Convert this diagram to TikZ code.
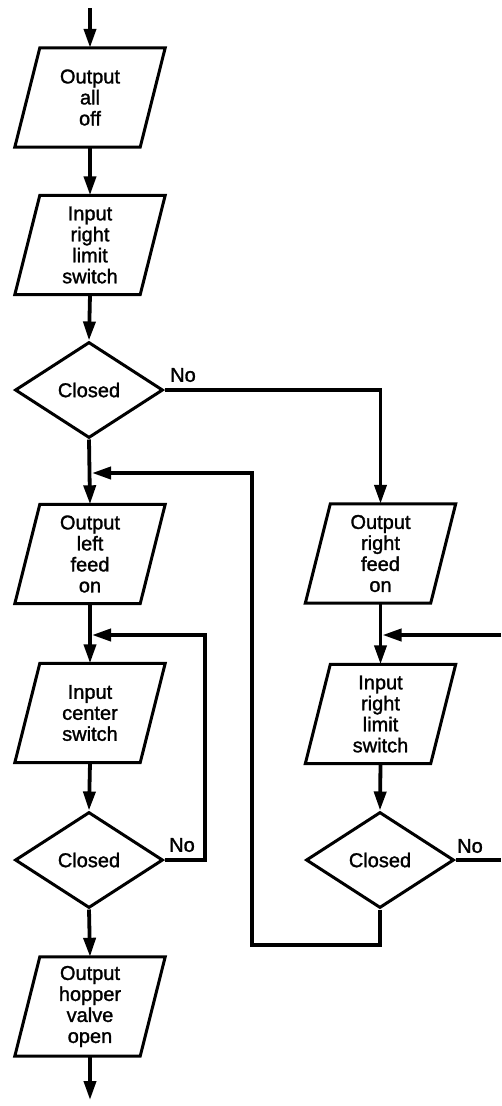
\documentclass[tikz,border=0pt]{standalone}
\usepackage{fontspec}
\setmainfont[FakeBold=1.4]{Liberation Sans}
\usetikzlibrary{shapes.geometric,arrows.meta}
\begin{document}
\begin{tikzpicture}[x=1pt,y=-1pt,
  txt/.style={font=\fontsize{20}{21}\selectfont, align=center, inner sep=0pt},
  iobox/.style={txt, minimum width=150pt, minimum height=99pt},
  decide/.style={txt, diamond, draw, line width=3pt, minimum width=148pt, minimum height=96pt, line join=miter},
  outline/.style={line width=3pt, line join=miter},
  flow/.style={line width=3.8pt, -{Triangle[length=19pt,width=12pt]}},
  wire/.style={line width=3.8pt},
  lbl/.style={font=\fontsize{20}{21}\selectfont, inner sep=0pt}
]
\useasboundingbox (0,0) rectangle (501,1106);
\fill[white] (0,0) rectangle (501,1106);

% left column
\node[iobox] (b1) at (90,97.5) {Output\\all\\off};
\node[iobox] (b2) at (90,245) {Input\\right\\limit\\switch};
\node[decide] (d1) at (89,390) {Closed};
\node[iobox] (b3) at (90,554) {Output\\left\\feed\\on};
\node[iobox] (b4) at (90,713) {Input\\center\\switch};
\node[decide] (d2) at (89,860) {Closed};
\node[iobox] (b5) at (90,1006.5) {Output\\hopper\\valve\\open};
% right column
\node[iobox] (r1) at (380.5,553.5) {Output\\right\\feed\\on};
\node[iobox] (r2) at (380.5,714) {Input\\right\\limit\\switch};
\node[decide] (d3) at (380,860) {Closed};

% labels
\node[lbl] (n1) at (183,375) {No};
\node[lbl] (n2) at (182,845) {No};
\node[lbl] (n3) at (470,846) {No};

% parallelogram outlines
\foreach \n in {b1,b2,b3,b4,b5,r1,r2}{
  \draw[outline] ([xshift=25pt]\n.north west) -- (\n.north east)
    -- ([xshift=-25pt]\n.south east) -- (\n.south west) -- cycle;
}

% coordinates
\coordinate (start) at (90,8);
\coordinate (finish) at (90,1100);
\coordinate (m1) at (90,473);
\coordinate (m2) at (90,635);
\coordinate (m3) at (380.5,635);
\coordinate (e1) at (501,635);
\coordinate (e2) at (501,860);

% connectors
\draw[flow] (start) -- (b1.north);
\draw[flow] (b1.south) -- (b2.north);
\draw[flow] (b2.south) -- (d1.north);
\draw[flow] (d1.south) -- (b3.north);
\draw[flow] (b3.south) -- (b4.north);
\draw[flow] (b4.south) -- (d2.north);
\draw[flow] (d2.south) -- (b5.north);
\draw[flow] (b5.south) -- (finish);

\draw[flow] (d1.east) -- (r1.north |- d1.east) -- (r1.north);
\draw[flow] (r1.south) -- (r2.north);
\draw[flow] (r2.south) -- (d3.north);

% loops
\draw[flow, shorten >=2pt] (d2.east) -- (205,860) -- (205,635) -- (m2);
\draw[flow, shorten >=2pt] (d3.south) -- (380,945) -- (252,945) -- (252,473) -- (m1);
\draw[flow, shorten >=2pt] (e1) -- (m3);
\draw[wire] (d3.east) -- (e2);
\end{tikzpicture}
\end{document}
